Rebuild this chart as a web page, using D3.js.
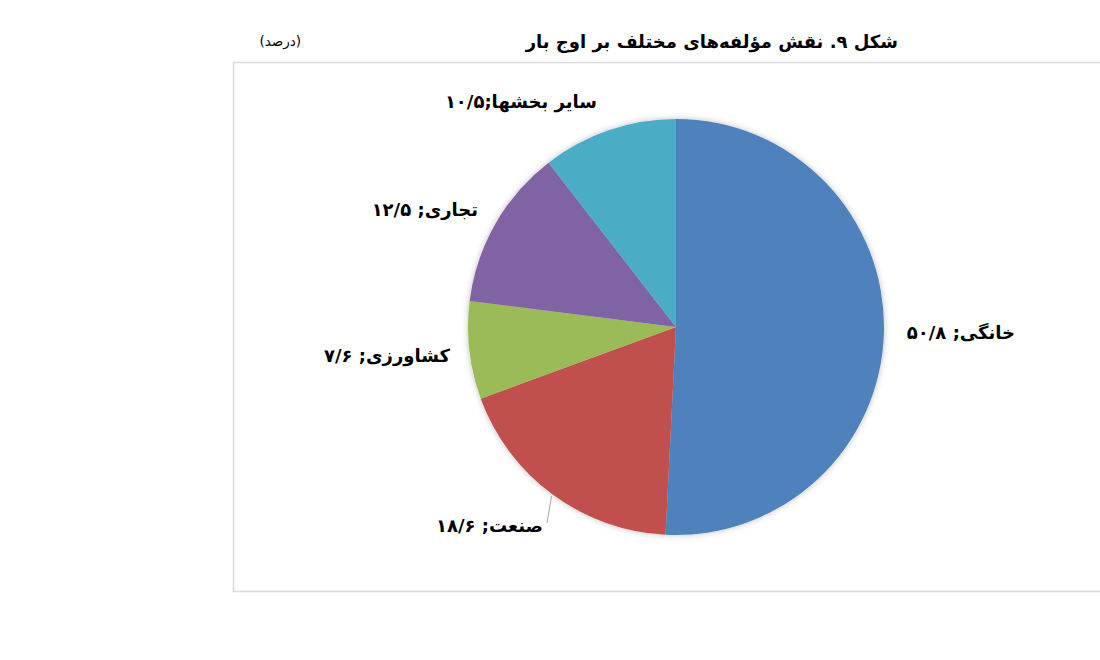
<!DOCTYPE html>
<html>
<head>
<meta charset="utf-8">
<script src="https://cdn.jsdelivr.net/npm/d3@7/dist/d3.min.js"></script>
<style>
  html, body { margin: 0; padding: 0; background: #fff; }
  svg { display: block; }
</style>
</head>
<body>
<svg id="chart" width="1100" height="660"></svg>
<script>
// Share of each sector in peak load (percent)
const categories = ["خانگی", "صنعت", "کشاورزی", "تجاری", "سایر بخشها"];
const values = [50.8, 18.6, 7.6, 12.5, 10.5];
const valueLabels = ["۵۰/۸", "۱۸/۶", "۷/۶", "۱۲/۵", "۱۰/۵"];
const colors = ["#4F81BD", "#C0504D", "#9BBB59", "#8064A2", "#4BACC6"];

const svg = d3.select("#chart");
const font = "'DejaVu Sans', sans-serif";

// Plot frame
svg.append("rect")
  .attr("x", 233.5).attr("y", 62.5)
  .attr("width", 900).attr("height", 529)
  .attr("fill", "none").attr("stroke", "#d9d9d9").attr("stroke-width", 1.5);

// Title and unit
svg.append("text")
  .attr("x", 898).attr("y", 48)
  .attr("text-anchor", "start").attr("direction", "rtl")
  .attr("font-family", font).attr("font-weight", "bold").attr("font-size", 18)
  .text("شکل ۹. نقش مؤلفه‌های مختلف بر اوج بار");
svg.append("text")
  .attr("x", 301).attr("y", 46)
  .attr("text-anchor", "start").attr("direction", "rtl")
  .attr("font-family", font).attr("font-size", 13.5)
  .text("(درصد)");

const cx = 676, cy = 327, r = 208;

const defs = svg.append("defs");
const f = defs.append("filter").attr("id", "soft").attr("x", "-20%").attr("y", "-20%").attr("width", "140%").attr("height", "140%");
f.append("feDropShadow").attr("dx", 0).attr("dy", 0).attr("stdDeviation", 3)
  .attr("flood-color", "#000").attr("flood-opacity", 0.25);

const pie = d3.pie().sort(null).value(d => d);
const arcs = pie(values);
const arc = d3.arc().innerRadius(0).outerRadius(r);

const g = svg.append("g").attr("transform", `translate(${cx},${cy})`);
g.append("g").attr("filter", "url(#soft)")
  .selectAll("path").data(arcs).join("path")
  .attr("d", arc)
  .attr("fill", (d, i) => colors[i]);

// Data labels (right edge x, baseline y)
const labelPos = [
  [1015, 339],
  [543, 532],
  [450, 362],
  [478, 216],
  [597, 108]
];
const seps = ["; ", "; ", "; ", "; ", ";"];

svg.append("g").selectAll("text").data(arcs).join("text")
  .attr("x", (d, i) => labelPos[i][0])
  .attr("y", (d, i) => labelPos[i][1])
  .attr("direction", "rtl")
  .attr("text-anchor", "start")
  .attr("font-family", font).attr("font-weight", "bold").attr("font-size", 18)
  .text((d, i) => categories[i] + seps[i] + valueLabels[i]);

// Leader line for the industry slice, from its label to the slice midpoint on the rim
const mid = (arcs[1].startAngle + arcs[1].endAngle) / 2;
const ex = cx + Math.sin(mid) * (r + 2), ey = cy - Math.cos(mid) * (r + 2);
svg.append("line")
  .attr("x1", 547).attr("y1", 523)
  .attr("x2", ex).attr("y2", ey)
  .attr("stroke", "#a6a6a6").attr("stroke-width", 1);
</script>
</body>
</html>
